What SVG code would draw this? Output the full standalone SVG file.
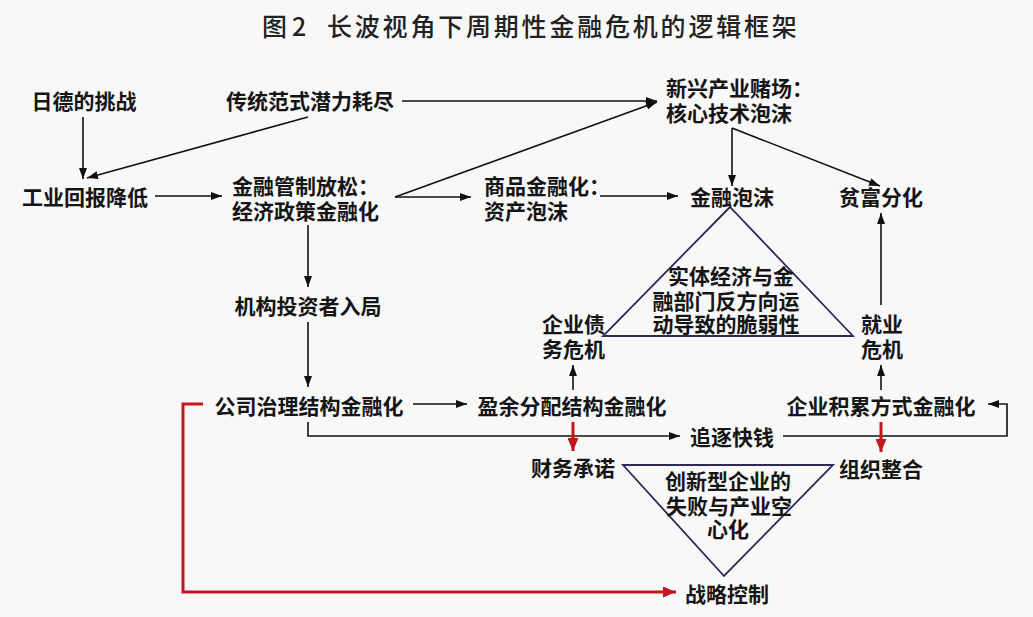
<svg xmlns="http://www.w3.org/2000/svg" width="1033" height="617" viewBox="0 0 1033 617">
<style>
.t{font-family:"Noto Sans CJK SC","Noto Sans",sans-serif;font-size:21px;font-weight:bold;fill:#151515}
.m{text-anchor:middle}
.ti{font-family:"Noto Sans CJK SC","Noto Sans",sans-serif;font-size:25px;font-weight:500;fill:#222}
.c{fill:none;stroke:#111;stroke-width:1.6;marker-end:url(#ab)}
.r{fill:none;stroke:#c4161c;stroke-width:3;marker-end:url(#ar)}
.tri{fill:none;stroke:#2b2b55;stroke-width:1.8}
</style>
<defs>
<marker id="ab" markerUnits="userSpaceOnUse" markerWidth="11" markerHeight="8" refX="11" refY="4" orient="auto"><path d="M0,0 L11,4 L0,8 z" fill="#111"/></marker>
<marker id="ar" markerUnits="userSpaceOnUse" markerWidth="13" markerHeight="11" refX="13" refY="5.5" orient="auto"><path d="M0,0 L13,5.5 L0,11 z" fill="#c4161c"/></marker>
</defs>
<rect width="1033" height="617" fill="#f8f8f8"/>
<g id="title"><text class="ti" y="36"><tspan x="262">图</tspan><tspan x="292">2</tspan><tspan x="327" letter-spacing="2.8">长波视角下周期性金融危机的逻辑框架</tspan></text></g>

<g id="connectors">
<path class="c" d="M83,117 L83,179"/>
<path class="c" d="M308,117 L87,178"/>
<path class="c" d="M155,196 L222,196"/>
<path class="c" d="M402,101 L657,101"/>
<path class="c" d="M395,197 L657,102"/>
<path class="c" d="M395,197 L471,197"/>
<path class="c" d="M600,196 L678,196"/>
<path class="c" d="M732,128 L732,186"/>
<path class="c" d="M732,128 L880,186"/>
<path class="c" d="M881,305 L881,213"/>
<path class="c" d="M881,390 L881,365"/>
<path class="c" d="M573,390 L573,365"/>
<path class="c" d="M308,225 L308,287"/>
<path class="c" d="M308,322 L308,387"/>
<path class="c" d="M413,404 L467,404"/>
<path class="c" d="M308,422 L308,436 L680,436"/>
<path class="c" d="M783,436 L1007,436 L1007,404 L988,404"/>
<path class="r" d="M573,422 L573,451"/>
<path class="r" d="M881,422 L881,452"/>
<path class="r" d="M203,404 L183,404 L183,592 L676,592"/>
</g>

<g id="n-ride"><text class="t m" x="84" y="109">日德的挑战</text></g>
<g id="n-chuantong"><text class="t m" x="310" y="109">传统范式潜力耗尽</text></g>
<g id="n-xinxing"><text class="t" x="666" y="96">新兴产业赌场：</text><text class="t" x="666" y="121">核心技术泡沫</text></g>
<g id="n-gongye"><text class="t m" x="85" y="205">工业回报降低</text></g>
<g id="n-jinrongguanzhi"><text class="t" x="232" y="194">金融管制放松：</text><text class="t" x="232" y="219">经济政策金融化</text></g>
<g id="n-shangpin"><text class="t" x="484" y="194">商品金融化：</text><text class="t" x="484" y="219">资产泡沫</text></g>
<g id="n-jinrongpaomo"><text class="t m" x="732" y="205">金融泡沫</text></g>
<g id="n-pinfu"><text class="t m" x="881" y="205">贫富分化</text></g>
<g id="n-cuiruo">
<polygon class="tri" points="730,207 603,336 853,336"/>
<text class="t m" x="731" y="284">实体经济与金</text>
<text class="t m" x="726" y="309">融部门反方向运</text>
<text class="t m" x="726" y="332">动导致的脆弱性</text>
</g>
<g id="n-zhaiwu"><text class="t" x="542" y="332">企业债</text><text class="t" x="542" y="357">务危机</text></g>
<g id="n-jiuye"><text class="t" x="861" y="332">就业</text><text class="t" x="861" y="357">危机</text></g>
<g id="n-jigou"><text class="t m" x="308" y="314">机构投资者入局</text></g>
<g id="n-gongsi"><text class="t m" x="309" y="414">公司治理结构金融化</text></g>
<g id="n-yingyu"><text class="t m" x="572" y="414">盈余分配结构金融化</text></g>
<g id="n-jilei"><text class="t m" x="881" y="414">企业积累方式金融化</text></g>
<g id="n-zhuizhu"><text class="t m" x="732" y="445">追逐快钱</text></g>
<g id="n-caiwu"><text class="t m" x="573" y="476">财务承诺</text></g>
<g id="n-zuzhi"><text class="t m" x="881" y="477">组织整合</text></g>
<g id="n-chuangxin">
<polygon class="tri" points="623,465 833,465 724,576"/>
<text class="t m" x="728" y="489">创新型企业的</text>
<text class="t m" x="729" y="514">失败与产业空</text>
<text class="t m" x="728" y="537">心化</text>
</g>
<g id="n-zhanlue"><text class="t m" x="727" y="602">战略控制</text></g>
</svg>
